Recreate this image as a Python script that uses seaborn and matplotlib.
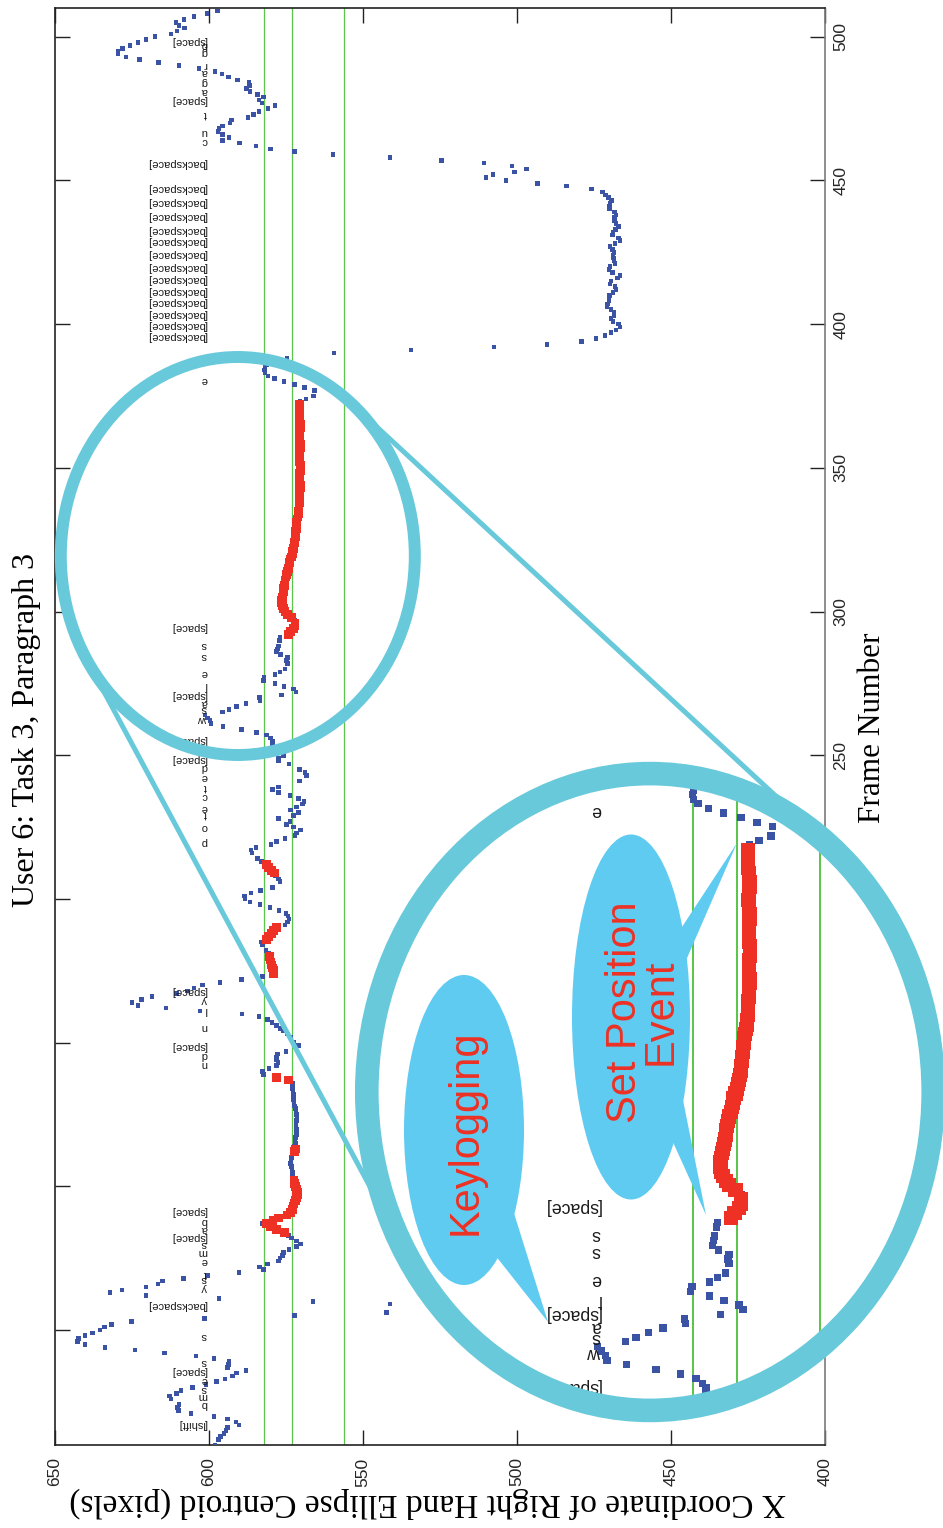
import numpy as np
import matplotlib
matplotlib.use("Agg")
import matplotlib.pyplot as plt
import seaborn as sns
from matplotlib.patches import Ellipse, Polygon
from matplotlib.lines import Line2D
from matplotlib import font_manager

# ---------------- data ----------------
# right-hand ellipse centroid (x, pixels) per video frame
blue_frames = [
    10, 12, 13, 14, 15, 16, 17, 18, 19, 20, 21, 22, 23, 24, 26, 27, 28, 29, 30, 31,
    32, 33, 34, 35, 36, 37, 38, 39, 40, 41, 42, 43, 44, 45, 46, 47, 48, 49, 50, 51,
    52, 53, 54, 55, 56, 57, 58, 59, 60, 61, 62, 63, 64, 65, 66, 67, 68, 69, 70, 71,
    72, 73, 74, 75, 76, 77, 78, 79, 80, 81, 82, 83, 87,
    103, 104, 105, 106, 107, 108, 109, 110, 111, 114, 115, 116, 117, 118, 119, 120,
    121, 122, 123, 124, 125, 126, 127, 128, 129, 130, 131, 132, 133, 134, 135, 136,
    139, 140, 141, 142, 143, 144, 145, 146, 147, 149, 150, 152, 153, 154, 155, 156,
    157, 158, 159, 160, 161, 162, 163, 164, 165, 166, 167, 168, 169, 170, 171, 172,
    173, 181, 182, 184, 185, 191, 192, 193, 194, 195, 196, 197, 198, 199, 200, 201,
    202, 203, 204, 206, 207, 208, 213, 214, 216, 217, 218, 219, 220, 221, 222, 223,
    224, 225, 226, 227, 228, 229, 230, 231, 232, 233, 234, 235, 236, 237, 238, 239,
    241, 243, 244, 245, 247, 248, 249, 250, 251, 252, 254, 255, 256, 257, 258, 259,
    260, 261, 262, 263, 264, 265, 266, 267, 268, 269, 270, 271, 272, 273, 274, 275,
    276, 277, 278, 279, 280, 282, 283, 284, 285, 286, 287, 288, 290, 291, 297,
    373, 374, 375, 377, 378, 379, 380, 381, 382, 383, 384, 385, 386, 387, 388, 390,
    391, 392, 393, 394, 395, 396, 397, 398, 399, 400, 401, 402, 403, 404, 405, 406,
    407, 408, 409, 410, 411, 412, 413, 414, 415, 416, 417, 418, 419, 420, 421, 422,
    423, 424, 425, 426, 427, 428, 429, 430, 431, 432, 433, 434, 435, 436, 437, 438,
    439, 440, 441, 442, 443, 444, 445, 446, 447, 448, 449, 450, 451, 452, 453, 454,
    455, 456, 457, 458, 459, 460, 461, 462, 463, 464, 465, 466, 467, 468, 469, 470,
    471, 472, 473, 474, 475, 476, 477, 478, 479, 480, 481, 482, 483, 484, 485, 486,
    487, 488, 489, 490, 491, 492, 493, 494, 495, 496, 497, 498, 499, 500, 501, 502,
    503, 504, 505, 506, 507, 508, 509,
]
blue_x = [
    598.1, 597.0, 596.2, 595.1, 594.5, 594.0, 590.2, 591.2, 594.0, 598.4, 605.8, 610.0, 610.3, 609.7, 612.4, 612.9, 610.5, 609.1, 605.3, 601.0,
    597.5, 594.8, 592.3, 591.0, 588.0, 594.0, 593.7, 593.5, 598.4, 604.2, 614.4, 624.0, 633.8, 640.3, 642.6, 642.4, 640.3, 637.8, 635.4, 634.0,
    631.6, 625.1, 601.4, 572.3, 542.3, 527.5, 515.0, 541.2, 566.2, 596.8, 620.5, 632.1, 628.3, 620.5, 616.5, 615.0, 608.3, 600.4, 590.3, 582.4,
    583.7, 581.0, 577.4, 576.9, 576.1, 575.9, 574.0, 571.5, 570.2, 571.5, 573.2, 574.2, 582.8,
    572.8, 572.8, 572.9, 573.1, 573.3, 573.6, 573.4, 573.3, 573.0, 572.2, 572.0, 572.1, 571.9, 571.6, 571.5, 571.6,
    571.8, 571.8, 571.6, 571.4, 571.5, 571.7, 571.9, 572.2, 572.4, 572.5, 572.6, 572.6, 572.7, 572.8, 572.8, 572.8,
    582.4, 582.7, 580.5, 578.0, 577.6, 578.0, 578.0, 577.7, 575.0, 571.0, 572.6, 573.5, 574.6, 575.9, 576.9, 578.0,
    579.5, 581.0, 583.8, 589.3, 602.9, 614.0, 623.1, 625.0, 621.9, 618.5, 610.5, 607.0, 604.9, 602.2, 596.4, 589.4,
    582.7, 580.6, 581.5, 582.6, 583.1, 575.3, 574.6, 574.0, 574.3, 575.0, 577.3, 580.2, 583.4, 586.7, 588.3, 588.5,
    586.4, 583.2, 579.3, 576.9, 577.5, 578.6, 582.9, 584.2, 586.0, 586.4, 584.8, 579.9, 578.0, 575.3, 572.1, 571.5,
    570.2, 572.6, 574.8, 573.7, 577.4, 572.6, 571.0, 573.5, 571.5, 569.7, 569.2, 571.0, 573.7, 577.5, 579.3, 577.5,
    570.7, 568.3, 568.8, 570.7, 574.0, 577.5, 577.5, 575.9, 577.0, 578.5, 579.3, 579.3, 580.0, 581.3, 584.5, 589.4,
    595.4, 599.4, 599.7, 600.5, 601.3, 595.6, 593.5, 591.0, 588.0, 583.4, 583.7, 576.4, 571.8, 572.6, 575.6, 578.6,
    582.4, 582.1, 578.6, 577.0, 575.3, 574.6, 574.8, 574.6, 576.7, 578.0, 577.7, 577.5, 577.2, 577.0, 572.1,
    570.5, 568.5, 566.1, 565.8, 568.9, 572.2, 575.7, 578.8, 580.9, 581.8, 582.0, 581.8, 581.2, 580.0, 574.7, 559.4,
    534.4, 507.5, 490.2, 479.1, 474.4, 471.4, 469.5, 467.9, 466.5, 467.1, 468.8, 469.5, 468.5, 468.5, 469.5, 470.8,
    470.6, 470.1, 470.1, 470.0, 468.8, 467.8, 468.2, 469.8, 469.5, 467.4, 466.5, 469.0, 470.1, 469.8, 468.2, 468.5,
    468.7, 468.8, 468.5, 469.0, 469.8, 468.2, 466.5, 467.0, 469.0, 468.8, 468.1, 467.1, 467.8, 468.4, 468.4, 467.9,
    468.4, 470.0, 470.0, 469.8, 469.3, 470.2, 471.2, 472.3, 475.9, 484.0, 493.4, 503.6, 510.1, 507.8, 500.9, 497.0,
    501.6, 510.7, 524.5, 541.2, 559.7, 572.3, 580.0, 584.7, 590.0, 595.6, 593.5, 595.6, 597.1, 596.7, 595.6, 593.2,
    592.6, 587.3, 585.5, 583.8, 580.8, 578.6, 582.8, 583.8, 582.4, 584.2, 586.7, 587.8, 586.9, 587.0, 590.7, 593.7,
    595.8, 598.1, 603.2, 609.7, 616.3, 622.5, 627.0, 629.5, 629.5, 628.0, 625.6, 623.1, 620.5, 617.5, 612.3, 610.4,
    607.9, 609.7, 610.7, 608.1, 604.9, 600.7, 597.2,
]

# frames flagged as "set position" events
red_frames = [
    84, 85, 86, 87, 88, 89, 90, 91, 92, 93, 94, 95, 96, 97, 98, 99, 100, 101, 102,
    112, 113, 137, 138,
    174, 175, 176, 177, 178, 179, 180, 186, 187, 188, 189, 190, 209, 210, 211, 212,
    292, 293, 294, 295, 296,
    298, 299, 300, 301, 302, 303, 304, 305, 306, 307, 308, 309, 310, 311, 312, 313,
    314, 315, 316, 317, 318, 319, 320, 321, 322, 323, 324, 325, 326, 327, 328, 329,
    330, 331, 332, 333, 334, 335, 336, 337, 338, 339, 340, 341, 342, 343, 344, 345,
    346, 347, 348, 349, 350, 351, 352, 353, 354, 355, 356, 357, 358, 359, 360, 361,
    362, 363, 364, 365, 366, 367, 368, 369, 370, 371, 372,
]
red_x = [
    575.6, 578.0, 580.2, 581.3, 579.2, 577.4, 574.7, 573.6, 573.0, 572.7, 572.4, 572.0, 571.6, 571.3, 571.3, 571.7, 572.0, 572.2, 572.4,
    572.2, 572.0, 574.2, 578.2,
    579.0, 579.1, 579.3, 579.6, 579.9, 580.2, 580.4, 581.3, 580.7, 579.8, 579.0, 578.2, 578.8, 579.6, 580.6, 581.3,
    574.2, 573.5, 572.6, 572.1, 572.1,
    573.3, 574.6, 575.3, 575.9, 576.2, 576.4, 576.4, 576.2, 576.0, 575.9, 575.7, 575.5, 575.3, 575.3, 575.0, 574.8,
    574.6, 574.3, 574.0, 573.9, 573.7, 573.3, 573.0, 572.8, 572.6, 572.4, 572.2, 572.1, 572.0, 571.9, 571.8, 571.7,
    571.6, 571.5, 571.4, 571.1, 571.0, 570.9, 570.8, 570.8, 570.7, 570.7, 570.6, 570.6, 570.5, 570.4, 570.4, 570.5,
    570.6, 570.6, 570.5, 570.4, 570.3, 570.4, 570.5, 570.5, 570.6, 570.6, 570.5, 570.4, 570.4, 570.5, 570.6, 570.7,
    570.6, 570.5, 570.4, 570.4, 570.5, 570.6, 570.7, 570.8, 570.8, 570.7, 570.7,
]

# keystrokes from the key logger, placed at the frame they were captured
key_frames = [
    17.3, 24.3, 27.2, 29.5, 32.6, 35.9, 39.0, 47.8, 58.7, 64.8, 67.9, 69.6, 74.0, 77.3, 79.9,
    82.4, 85.0, 88.0, 91.4, 142.7, 145.6, 148.7, 155.5, 161.5, 165.0, 167.8,
    219.9, 225.1, 229.6, 231.8, 235.8, 239.0, 242.5, 245.9, 248.6, 255.2, 262.7, 266.0,
    268.3, 271.1, 274.3, 278.6, 284.7, 288.4, 294.5, 380.5,
    395.8, 399.7, 403.5, 407.6, 411.5, 415.6, 419.8, 424.3, 428.8, 432.9, 437.8, 442.4,
    447.2, 455.9, 463.8, 467.0, 473.0, 478.0, 481.0, 484.4, 487.8, 490.3, 494.8, 497.1, 498.5,
]
key_labels = [
    "[lshift]", "b", "m", "s", "e", "[space]", "s", "s", "[backspace]", "y", "s", "t", "e", "m", "s",
    "[space]", "a", "b", "[space]", "n", "d", "[space]", "n", "l", "y", "[space]",
    "p", "o", "t", "e", "c", "t", "e", "d", "[space]", "[space]", "w", "s",
    "a", "[space]", "l", "e", "s", "s", "[space]", "e",
    "[backspace]", "[backspace]", "[backspace]", "[backspace]", "[backspace]", "[backspace]",
    "[backspace]", "[backspace]", "[backspace]", "[backspace]", "[backspace]", "[backspace]",
    "[backspace]", "[backspace]", "c", "u", "t", "[space]", "a", "g", "a", "r", "g", "b", "[space]",
]

guide_x = [582.0, 573.0, 556.1]
x_ticks = [650, 600, 550, 500, 450, 400]
frame_ticks = [50, 100, 150, 200, 250, 300, 350, 400, 450, 500]
frame_ticklabels = ["", "", "", "", "250", "300", "350", "400", "450", "500"]

title_text = "User 6: Task 3, Paragraph 3"
xcoord_label = "X Coordinate of Right Hand Ellipse Centroid (pixels)"
frame_label = "Frame Number"

# ---------------- style ----------------
sns.set_style("ticks")
installed = {f.name for f in font_manager.fontManager.ttflist}
SERIF = "Liberation Serif"
SANS = "Liberation Sans"
NARROW = "Liberation Sans Narrow" if "Liberation Sans Narrow" in installed else SANS
TICK_FS = 13.5 if NARROW != SANS else 12.5
plt.rcParams["font.family"] = [SANS, "DejaVu Sans"]

BLUE = "#3A53A4"
RED = "#EE3124"
GREEN = "#5CC54B"
RING = "#68C9DB"
BUBBLE = "#5FCBF1"
TXT_RED = "#EE3124"

W, H, DPI = 943, 1528, 100
fig = plt.figure(figsize=(W / DPI, H / DPI), dpi=DPI)
fig.patch.set_facecolor("white")


def fx(px):
    return px / W


def fy(py):
    return 1 - py / H


# main axes: frame number runs vertically, centroid x runs right-to-left
ax = fig.add_axes([fx(55), fy(1445), (825 - 55) / W, (1445 - 8) / H])
ax.set_facecolor("white")


def draw_trace(a, scale=1.0):
    for gx in guide_x:
        a.axvline(gx, color=GREEN, lw=0.9 * scale, zorder=1)
    sns.scatterplot(x=blue_x, y=blue_frames, ax=a, marker="s", s=11 * scale ** 2,
                    color=BLUE, edgecolor="none", linewidth=0, legend=False, zorder=3)
    sns.scatterplot(x=red_x, y=red_frames, ax=a, marker="s", s=40 * scale ** 2,
                    color=RED, edgecolor="none", linewidth=0, legend=False, zorder=4)


def draw_keys(a, scale=1.0, frame_range=None):
    for f, lab in zip(key_frames, key_labels):
        if frame_range is not None and not (frame_range[0] <= f <= frame_range[1]):
            continue
        a.text(600.6, f, lab, rotation=180, ha="right", va="center",
               fontsize=8.0 * scale, color="#1a1a1a", family=SANS, zorder=5)


draw_trace(ax)
draw_keys(ax)
ax.set_xlim(650, 400)
ax.set_ylim(10, 510)

ax.set_xticks(x_ticks)
ax.set_xticklabels([str(v) for v in x_ticks], rotation=90, family=NARROW, fontsize=TICK_FS)
ax.set_yticks(frame_ticks)
ax.set_yticklabels(frame_ticklabels, rotation=90, family=NARROW, fontsize=TICK_FS, va="center")
ax.tick_params(axis="both", direction="in", length=10.5, width=1.0, color="#222222",
               top=True, right=True, left=True, bottom=True,
               labelleft=False, labelright=True, labeltop=False, labelbottom=True)
ax.tick_params(axis="x", pad=9)
ax.tick_params(axis="y", pad=6)
for side in ["left", "bottom", "top"]:
    ax.spines[side].set_color("#222222")
    ax.spines[side].set_linewidth(1.2)
ax.spines["right"].set_color("#7a7a7a")
ax.spines["right"].set_linewidth(1.2)
ax.set_xlabel("")
ax.set_ylabel("")

fig.text(fx(27), fy(730), title_text, rotation=90, ha="center", va="center",
         fontsize=23, family=SERIF, color="black")
fig.text(fx(872), fy(728), frame_label, rotation=90, ha="center", va="center",
         fontsize=22.5, family=SERIF, color="black")
fig.text(fx(428), fy(1503), xcoord_label, rotation=180, ha="center", va="center",
         fontsize=24, family=SERIF, color="black")

# ---------------- magnifier ----------------
k = 1.6
sc = np.array([237.8, 556.0])          # lens centre (px, from top-left)
sr = np.array([177.0, 199.0])          # lens radii
bc = np.array([650.0, 1092.0])         # enlarged view centre
br = sr * k

small_ring = Ellipse((fx(sc[0]), fy(sc[1])), 2 * sr[0] / W, 2 * sr[1] / H,
                     transform=fig.transFigure, fill=False, edgecolor=RING, lw=8.6, zorder=3)
fig.add_artist(small_ring)

# outer tangents through the centre of similitude of the two ellipses
O = (k * sc - bc) / (k - 1)
P = (O - sc) / sr
dist = np.hypot(P[0], P[1])
phi = np.arctan2(P[1], P[0])
alpha = np.arccos(1.0 / dist)
for th in (phi + alpha, phi - alpha):
    u = np.array([np.cos(th), np.sin(th)])
    p1 = sc + sr * u
    p2 = bc + br * u
    fig.add_artist(Line2D([fx(p1[0]), fx(p2[0])], [fy(p1[1]), fy(p2[1])],
                          transform=fig.transFigure, color=RING, lw=3.6, zorder=2,
                          solid_capstyle="round"))

ax_in = fig.add_axes([fx(bc[0] - br[0]), fy(bc[1] + br[1]), 2 * br[0] / W, 2 * br[1] / H],
                     zorder=5)
ax_in.set_axis_off()
bg = Ellipse((0.5, 0.5), 1.0, 1.0, transform=ax_in.transAxes, fc="white", ec="none", zorder=0)
ax_in.add_patch(bg)

inv = ax.transData.inverted()
xl, fb = inv.transform((sc[0] - sr[0], H - (sc[1] + sr[1])))
xr, ft = inv.transform((sc[0] + sr[0], H - (sc[1] - sr[1])))

draw_trace(ax_in, scale=k)
draw_keys(ax_in, scale=k, frame_range=(fb + 3, ft - 3))
ax_in.set_xlim(xl, xr)
ax_in.set_ylim(fb, ft)

clip = Ellipse((0.5, 0.5), 1.0, 1.0, transform=ax_in.transAxes)
for art in list(ax_in.collections) + list(ax_in.lines) + list(ax_in.texts):
    art.set_clip_path(clip)

big_ring = Ellipse((fx(bc[0]), fy(bc[1])), 2 * br[0] / W, 2 * br[1] / H,
                   transform=fig.transFigure, fill=False, edgecolor=RING, lw=17, zorder=6)
fig.add_artist(big_ring)

# ---------------- call-out bubbles ----------------
def bubble(cx, cy, w, h, tails):
    fig.add_artist(Ellipse((fx(cx), fy(cy)), w / W, h / H, transform=fig.transFigure,
                           fc=BUBBLE, ec="none", zorder=7))
    for tri in tails:
        fig.add_artist(Polygon([(fx(x), fy(y)) for x, y in tri], closed=True,
                               transform=fig.transFigure, fc=BUBBLE, ec="none", zorder=7))


bubble(464, 1130, 120, 310, [[(495, 1255), (513, 1210), (548, 1322)]])
bubble(631, 1017, 118, 365, [[(680, 930), (684, 965), (737, 843)],
                             [(672, 1140), (683, 1100), (706, 1215)]])

fig.text(fx(466), fy(1132), "Keylogging", rotation=90, ha="center", va="center",
         fontsize=30, family=SANS, color=TXT_RED, zorder=8)
fig.text(fx(643), fy(1012), "Set Position\nEvent", rotation=90, ha="center", va="center",
         multialignment="center", linespacing=0.85,
         fontsize=30, family=SANS, color=TXT_RED, zorder=8)

fig.savefig("out.png", dpi=DPI, facecolor="white")
